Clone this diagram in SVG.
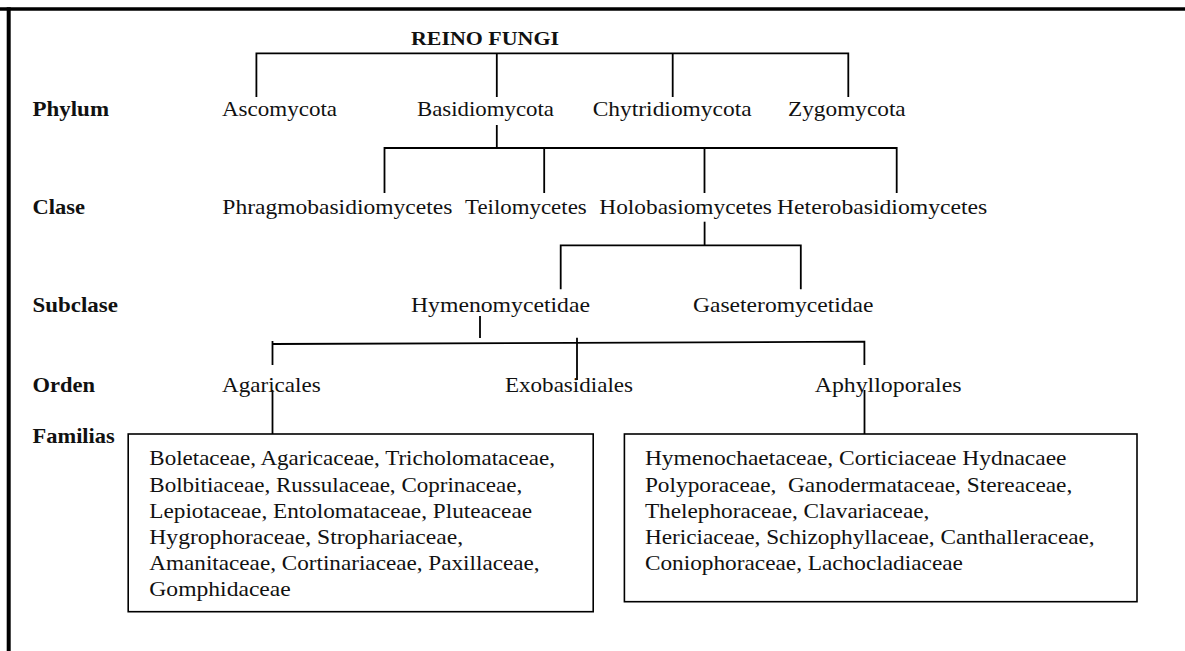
<svg xmlns="http://www.w3.org/2000/svg" width="1185" height="651" viewBox="0 0 1185 651">
<style>
text{font-family:"Liberation Serif","Times New Roman",serif;font-size:21px;fill:#111}
.b{font-weight:bold}
.t{font-weight:bold;font-size:19px}
.c{stroke:#000;stroke-width:1.8;fill:none}
.f{stroke:#000;fill:none}
.box{fill:#fff;stroke:#000;stroke-width:1.6}
</style>
<rect x="0" y="0" width="1185" height="651" fill="#fff"/>
<g id="frame">
<line class="f" x1="0" y1="9" x2="1185" y2="9" stroke-width="3.6"/>
<line class="f" x1="8.7" y1="7.2" x2="8.7" y2="651" stroke-width="4"/>
</g>
<g id="labels">
<text class="b" x="32.5" y="116" textLength="76.5" lengthAdjust="spacingAndGlyphs">Phylum</text>
<text class="b" x="32.5" y="213.5" textLength="52.5" lengthAdjust="spacingAndGlyphs">Clase</text>
<text class="b" x="32.5" y="312" textLength="85.4" lengthAdjust="spacingAndGlyphs">Subclase</text>
<text class="b" x="32.5" y="392" textLength="62.5" lengthAdjust="spacingAndGlyphs">Orden</text>
<text class="b" x="32.5" y="443.3" textLength="82.3" lengthAdjust="spacingAndGlyphs">Familias</text>
</g>
<g id="connectors">
<path class="c" d="M256.4,97 V53.3 H848.3 V97 M496.8,53.3 V97 M672.7,53.3 V97"/>
<path class="c" d="M496.8,125 V148"/>
<path class="c" d="M384.5,193 V148 H896.7 V193 M544.2,148 V193 M704.5,148 V193"/>
<path class="c" d="M704.6,221.7 V245.3"/>
<path class="c" d="M560.7,289.3 V245.3 H800.8 V289.3"/>
<path class="c" d="M480,316 V338"/>
<path class="c" d="M272.5,341 V365 M272.5,344 L864.4,341.7 V365"/>
<path class="c" d="M577,337.7 V380"/>
<path class="c" d="M272.5,390 V434"/>
<path class="c" d="M864.5,390 V434"/>
</g>
<g id="reino-fungi"><text class="t" x="411" y="45" textLength="148" lengthAdjust="spacingAndGlyphs">REINO FUNGI</text></g>
<g id="ascomycota"><text x="222" y="116" textLength="115" lengthAdjust="spacingAndGlyphs">Ascomycota</text></g>
<g id="basidiomycota"><text x="417" y="116" textLength="137" lengthAdjust="spacingAndGlyphs">Basidiomycota</text></g>
<g id="chytridiomycota"><text x="592.7" y="116" textLength="159" lengthAdjust="spacingAndGlyphs">Chytridiomycota</text></g>
<g id="zygomycota"><text x="788" y="116" textLength="117.7" lengthAdjust="spacingAndGlyphs">Zygomycota</text></g>
<g id="phragmobasidiomycetes"><text x="222.3" y="213.5" textLength="230" lengthAdjust="spacingAndGlyphs">Phragmobasidiomycetes</text></g>
<g id="teilomycetes"><text x="465" y="213.5" textLength="121.7" lengthAdjust="spacingAndGlyphs">Teilomycetes</text></g>
<g id="holobasiomycetes"><text x="599.3" y="213.5" textLength="172.6" lengthAdjust="spacingAndGlyphs">Holobasiomycetes</text></g>
<g id="heterobasidiomycetes"><text x="777" y="213.5" textLength="210.3" lengthAdjust="spacingAndGlyphs">Heterobasidiomycetes</text></g>
<g id="hymenomycetidae"><text x="411" y="312" textLength="179" lengthAdjust="spacingAndGlyphs">Hymenomycetidae</text></g>
<g id="gaseteromycetidae"><text x="693" y="312" textLength="180.4" lengthAdjust="spacingAndGlyphs">Gaseteromycetidae</text></g>
<g id="agaricales"><text x="222" y="392" textLength="98.7" lengthAdjust="spacingAndGlyphs">Agaricales</text></g>
<g id="exobasidiales"><text x="505" y="392" textLength="128" lengthAdjust="spacingAndGlyphs">Exobasidiales</text></g>
<g id="aphylloporales"><text x="814.7" y="392" textLength="146.8" lengthAdjust="spacingAndGlyphs">Aphylloporales</text></g>
<g id="familias-agaricales">
<rect class="box" x="128.2" y="434" width="465" height="177.7"/>
<text x="149.3" y="465" textLength="405.6" lengthAdjust="spacingAndGlyphs">Boletaceae, Agaricaceae, Tricholomataceae,</text>
<text x="149.3" y="491.7" textLength="373" lengthAdjust="spacingAndGlyphs">Bolbitiaceae, Russulaceae, Coprinaceae,</text>
<text x="149.3" y="517.5" textLength="382.7" lengthAdjust="spacingAndGlyphs">Lepiotaceae, Entolomataceae, Pluteaceae</text>
<text x="149.3" y="543.5" textLength="313.8" lengthAdjust="spacingAndGlyphs">Hygrophoraceae, Strophariaceae,</text>
<text x="149.3" y="570" textLength="390.3" lengthAdjust="spacingAndGlyphs">Amanitaceae, Cortinariaceae, Paxillaceae,</text>
<text x="149.3" y="596" textLength="141.5" lengthAdjust="spacingAndGlyphs">Gomphidaceae</text>
</g>
<g id="familias-aphylloporales">
<rect class="box" x="624.4" y="434" width="512.6" height="167.7"/>
<text x="644.9" y="465" textLength="421.6" lengthAdjust="spacingAndGlyphs">Hymenochaetaceae, Corticiaceae Hydnacaee</text>
<text x="644.9" y="491.7" textLength="427.4" lengthAdjust="spacingAndGlyphs" xml:space="preserve">Polyporaceae,  Ganodermataceae, Stereaceae,</text>
<text x="644.9" y="517.7" textLength="284.5" lengthAdjust="spacingAndGlyphs">Thelephoraceae, Clavariaceae,</text>
<text x="644.9" y="543.5" textLength="449.8" lengthAdjust="spacingAndGlyphs">Hericiaceae, Schizophyllaceae, Canthalleraceae,</text>
<text x="644.9" y="570" textLength="318" lengthAdjust="spacingAndGlyphs">Coniophoraceae, Lachocladiaceae</text>
</g>
</svg>
